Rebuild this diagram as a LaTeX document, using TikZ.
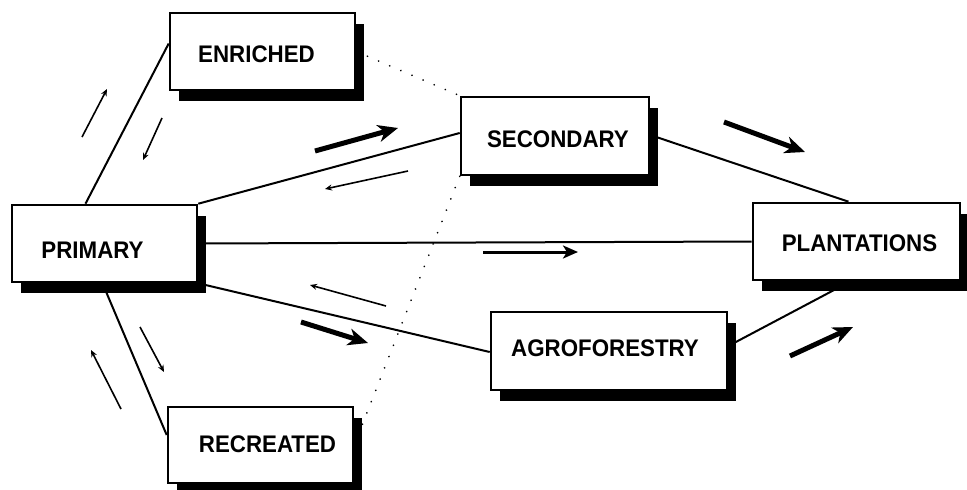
\documentclass[tikz,border=0pt]{standalone}
\usepackage{fontspec}
\setmainfont{Liberation Sans}[FakeStretch=0.93]
\usetikzlibrary{arrows.meta,shadows,backgrounds}
% box label, moved right by #1 and down by #2
\newcommand\boxlabel[3]{\hspace*{#1}\raisebox{-#2}{#3}\hspace*{-#1}}
\begin{document}
\begin{tikzpicture}[x=1pt,y=-1pt,
  stage/.style={draw=black,line width=2.6pt,fill=white,
    minimum width=#1,minimum height=77pt,inner sep=0pt,
    font=\fontsize{24}{27}\selectfont\bfseries,text height=17pt,text depth=0pt,
    drop shadow={shadow xshift=9pt,shadow yshift=-11pt,fill=black,opacity=1}},
  link/.style={line width=2pt},
  dotlink/.style={line width=1.8pt,line cap=round,dash pattern=on 0.1pt off 12pt},
  thin/.style={line width=1.6pt,-{Stealth[length=7pt,width=6pt]}},
  mid/.style={line width=3pt,-{Stealth[length=15pt,width=13pt,inset=4pt]}},
  thick/.style={line width=5pt,-{Stealth[length=20pt,width=17pt,inset=6pt]}}]
\useasboundingbox (0,0) rectangle (967,490);

% stage boxes
\node[stage=185pt] (E)  at (262.5,51.5) {\boxlabel{-6pt}{2.5pt}{ENRICHED}};
\node[stage=188pt,minimum height=78pt] (S) at (555,136) {\boxlabel{3pt}{2.5pt}{SECONDARY}};
\node[stage=185pt] (P)  at (104.5,243.5) {\boxlabel{-12pt}{6pt}{PRIMARY}};
\node[stage=207pt] (PL) at (856.5,241.5) {\boxlabel{3pt}{1pt}{PLANTATIONS}};
\node[stage=236pt,minimum height=78pt] (A) at (609,351) {\boxlabel{-4pt}{-3pt}{AGROFORESTRY}};
\node[stage=185pt,minimum height=76pt] (R) at (260.5,445) {\boxlabel{7pt}{-1pt}{RECREATED}};

% connectors behind the boxes
\begin{pgfonlayer}{background}
  \draw[link] ([xshift=-19pt]P.north) -- ([yshift=8pt]E.west);
  \draw[link] (P.north east) -- ([yshift=3pt]S.west);
  \draw[link] (P.east) -- (PL.west);
  \draw[link] (P.south east) -- ([yshift=-1pt]A.west);
  \draw[link] ([xshift=-2pt]P.south) -- ([yshift=10pt]R.west);
  \draw[link] ([yshift=1pt]S.east) -- ([xshift=-8pt]PL.north);
  \draw[link] ([yshift=5pt]A.east) -- ([xshift=-6pt]PL.south);
  \draw[dotlink] (E.east) -- (S.north west);
  \draw[dotlink] (S.south west) -- (R.east);
\end{pgfonlayer}

% direction arrows
\draw[thin]  (82,137)  -- (107,89);
\draw[thin]  (162,118) -- (143,160);
\draw[thick] (315,151) -- (398,128);
\draw[thin]  (408,171) -- (325,189);
\draw[thick] (724,122) -- (805,152);
\draw[mid]   (483,252) -- (578,252);
\draw[thin]  (386,306) -- (310,285);
\draw[thick] (301,322) -- (368,343);
\draw[thick] (790,356) -- (853,327);
\draw[thin]  (140,327) -- (164,372);
\draw[thin]  (121,409) -- (91,350);
\end{tikzpicture}
\end{document}
